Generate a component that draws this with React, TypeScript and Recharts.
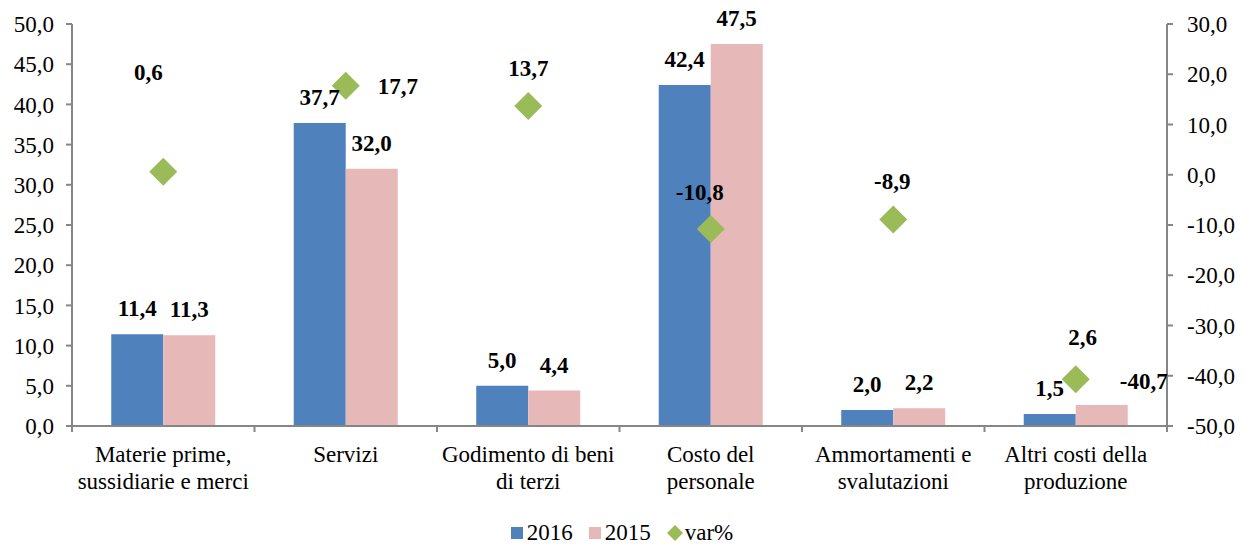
import { ComposedChart, Bar, Line, XAxis, YAxis, Legend, LabelList } from "recharts"

const categories = [
  "Materie prime,\nsussidiarie e merci",
  "Servizi",
  "Godimento di beni\ndi terzi",
  "Costo del\npersonale",
  "Ammortamenti e\nsvalutazioni",
  "Altri costi della\nproduzione",
]
const values2016 = [11.4, 37.7, 5.0, 42.4, 2.0, 1.5]
const values2015 = [11.3, 32.0, 4.4, 47.5, 2.2, 2.6]
const varPct = [0.6, 17.7, 13.7, -10.8, -8.9, -40.7]
const leftTicks = [0, 5, 10, 15, 20, 25, 30, 35, 40, 45, 50]
const rightTicks = [-50, -40, -30, -20, -10, 0, 10, 20, 30]

const data = categories.map((name, i) => ({
  name,
  y2016: values2016[i],
  y2015: values2015[i],
  varp: varPct[i],
}))

const BLUE = "#4F81BD"
const PINK = "#E6B9B8"
const GREEN = "#9BBB59"
const AXIS = "#868686"
const FONT = "'Liberation Serif', 'Times New Roman', serif"
const FS = 23

const W = 1244
const H = 544
const LEFT_W = 72
const RIGHT_W = 77
const BAND = (W - LEFT_W - RIGHT_W) / categories.length

// label nudges (dx, dy) where the original moved labels around
const varOffsets = [
  [-15, -100],
  [52, 0],
  [0, -38],
  [-11, -37],
  [-1, -38],
  [68, 2],
]
const bar2015Offsets: Record<number, number[]> = { 5: [-19, -42] }

const fmt = (v: number) => v.toFixed(1).replace(".", ",")

function XTick(props: any) {
  const { x, y, payload, index } = props
  const lines = String(payload.value).split("\n")
  return (
    <g>
      <line x1={x - BAND / 2} x2={x - BAND / 2} y1={y} y2={y + 6} stroke={AXIS} strokeWidth={2} />
      {index === categories.length - 1 && (
        <line x1={x + BAND / 2} x2={x + BAND / 2} y1={y} y2={y + 6} stroke={AXIS} strokeWidth={2} />
      )}
      {lines.map((l, k) => (
        <text key={k} x={x} y={y + 36 + k * 27} textAnchor="middle" fontFamily={FONT} fontSize={FS} fill="#000">
          {l}
        </text>
      ))}
    </g>
  )
}

function barLabel(offsets: Record<number, number[]>) {
  return (props: any) => {
    const { x, y, width, value, index } = props
    const [dx, dy] = offsets[index] || [0, 0]
    return (
      <text x={x + width / 2 + dx} y={y - 18 + dy} textAnchor="middle" fontFamily={FONT} fontSize={FS} fontWeight="bold" fill="#000">
        {fmt(value)}
      </text>
    )
  }
}

function VarLabel(props: any) {
  const { x, y, value, index } = props
  const [dx, dy] = varOffsets[index] || [0, -38]
  return (
    <text x={x + dx} y={y + dy + 8} textAnchor="middle" fontFamily={FONT} fontSize={FS} fontWeight="bold" fill="#000">
      {fmt(value)}
    </text>
  )
}

function Diamond(props: any) {
  const { cx, cy, index } = props
  const r = 14
  return (
    <polygon
      key={index}
      points={`${cx},${cy - r} ${cx + r},${cy} ${cx},${cy + r} ${cx - r},${cy}`}
      fill={GREEN}
    />
  )
}

function LegendContent() {
  const item = { display: "flex", alignItems: "center", margin: "0 8px", height: 18 }
  return (
    <div style={{ display: "flex", justifyContent: "center", fontFamily: FONT, fontSize: FS, lineHeight: "18px", color: "#000", paddingTop: 20 }}>
      <div style={item}>
        <span style={{ width: 12, height: 12, background: BLUE, marginRight: 4 }} />
        2016
      </div>
      <div style={item}>
        <span style={{ width: 12, height: 12, background: PINK, marginRight: 4 }} />
        2015
      </div>
      <div style={item}>
        <svg width={16} height={16} style={{ marginRight: 2 }}>
          <polygon points="8,0 16,8 8,16 0,8" fill={GREEN} />
        </svg>
        var%
      </div>
    </div>
  )
}

export default function App() {
  return (
    <div style={{ margin: "-8px 0 0 -8px", background: "#fff" }}>
      <ComposedChart width={W} height={H} data={data} margin={{ top: 24, right: 0, left: 0, bottom: 0 }} barGap={0} barCategoryGap="21.5%">
        <XAxis
          dataKey="name"
          interval={0}
          height={78}
          tick={<XTick />}
          tickLine={false}
          tickSize={0}
          tickMargin={0}
          axisLine={{ stroke: AXIS, strokeWidth: 2 }}
          yAxisId="left"
        />
        <YAxis
          yAxisId="left"
          width={LEFT_W}
          domain={[0, 50]}
          ticks={leftTicks}
          tickFormatter={fmt}
          tickSize={6}
          tickMargin={12}
          axisLine={{ stroke: AXIS, strokeWidth: 2 }}
          tickLine={{ stroke: AXIS, strokeWidth: 2 }}
          tick={{ fontFamily: FONT, fontSize: FS, fill: "#000" }}
        />
        <YAxis
          yAxisId="right"
          orientation="right"
          width={RIGHT_W}
          domain={[-50, 30]}
          ticks={rightTicks}
          tickFormatter={fmt}
          tickSize={6}
          tickMargin={14}
          axisLine={{ stroke: AXIS, strokeWidth: 2 }}
          tickLine={{ stroke: AXIS, strokeWidth: 2 }}
          tick={{ fontFamily: FONT, fontSize: FS, fill: "#000", textAnchor: "start" }}
        />
        <Legend verticalAlign="bottom" height={40} content={<LegendContent />} wrapperStyle={{ height: 40 }} />
        <Bar yAxisId="left" dataKey="y2016" name="2016" fill={BLUE} isAnimationActive={false}>
          <LabelList dataKey="y2016" content={barLabel({})} />
        </Bar>
        <Bar yAxisId="left" dataKey="y2015" name="2015" fill={PINK} isAnimationActive={false}>
          <LabelList dataKey="y2015" content={barLabel(bar2015Offsets)} />
        </Bar>
        <Line
          yAxisId="right"
          dataKey="varp"
          name="var%"
          stroke="none"
          dot={<Diamond />}
          activeDot={false}
          isAnimationActive={false}
        >
          <LabelList dataKey="varp" content={<VarLabel />} />
        </Line>
      </ComposedChart>
    </div>
  )
}
